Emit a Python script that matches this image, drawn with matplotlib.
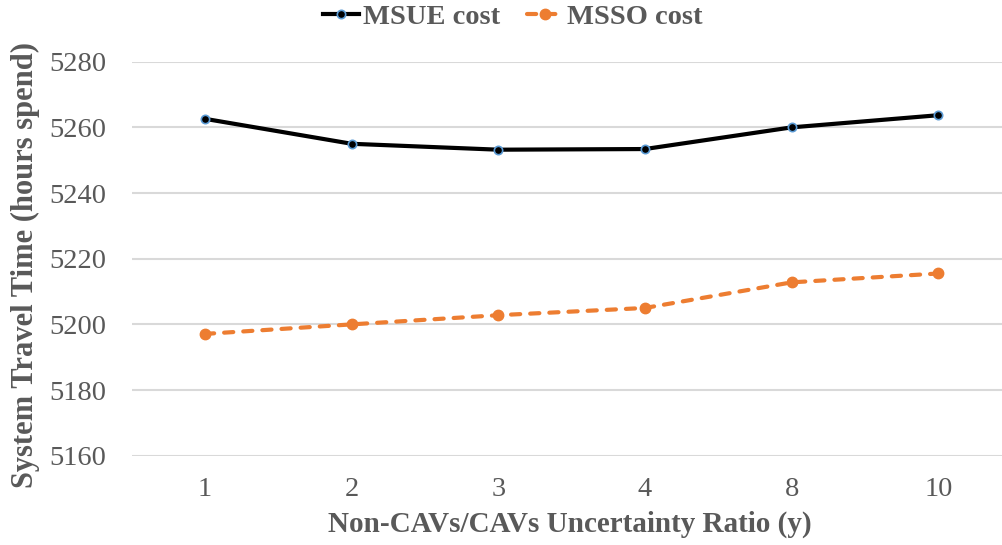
import matplotlib
matplotlib.use("Agg")
import matplotlib.pyplot as plt

matplotlib.rcParams['font.family'] = "Liberation Serif"

ratios = ["1", "2", "3", "4", "8", "10"]
msue_cost = [5262.6, 5255.0, 5253.2, 5253.4, 5260.0, 5263.7]
msso_cost = [5197.1, 5200.0, 5202.8, 5205.0, 5212.8, 5215.5]

text_color = "#595959"
grid_color = "#D9D9D9"

fig = plt.figure(figsize=(10.02, 5.45), dpi=100)
ax = fig.add_axes([0.1314, 0.1638, 0.8782, 0.7230])

x = list(range(len(ratios)))
ax.plot(x, msue_cost, color="black", linewidth=3.0, marker="o", markersize=6.0,
        markerfacecolor="black", markeredgecolor="#5B9BD5", markeredgewidth=1.2,
        label="MSUE cost", zorder=3)
ax.plot(x, msso_cost, color="#ED7D31", linewidth=3.0, linestyle=(0, (2.2, 2.4)),
        dash_capstyle="round", marker="o", markersize=7.5,
        markerfacecolor="#ED7D31", markeredgecolor="#ED7D31",
        label="MSSO cost", zorder=3)

ax.set_xlim(-0.5, 5.5)
ax.set_ylim(5160, 5280)
ax.set_yticks([5160, 5180, 5200, 5220, 5240, 5260, 5280])
ax.set_xticks(x)
ax.set_xticklabels(ratios)

ax.grid(axis='y', color=grid_color, linewidth=1.5)
ax.set_axisbelow(True)
for s in ax.spines.values():
    s.set_visible(False)
ax.tick_params(axis='both', length=0, labelsize=20.5, labelcolor=text_color)
ax.tick_params(axis='y', pad=18)
ax.tick_params(axis='x', pad=15)

# axis titles placed in figure coordinates
fig.text(0.569, 0.037, "Non-CAVs/CAVs Uncertainty Ratio (y)", fontsize=21,
         fontweight='bold', color=text_color, ha='center', va='center')
fig.text(0.025, 0.514, "System Travel Time (hours spend)", fontsize=22,
         fontweight='bold', color=text_color, ha='center', va='center', rotation=90)

leg = fig.legend(loc='center', bbox_to_anchor=(0.512, 0.968), ncol=2, frameon=False,
                 prop={'weight': 'bold', 'size': 20.5}, handlelength=1.25,
                 handletextpad=0.15, columnspacing=0.95, borderpad=0)
for t in leg.get_texts():
    t.set_color(text_color)

fig.savefig("out.png", dpi=100)
